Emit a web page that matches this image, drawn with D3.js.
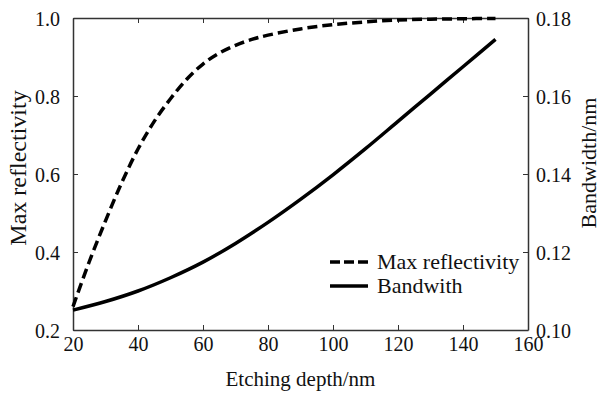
<!DOCTYPE html>
<html>
<head>
<meta charset="utf-8">
<script src="https://cdn.jsdelivr.net/npm/d3@7"></script>
<style>
body{margin:0;background:#fff;}
</style>
</head>
<body>
<script>
// etching depth (nm)
var depthR=[20,25,30,35,40,45,50,55,60,65,70,75,80,90,100,110,120,130,140,150];
var reflectivity=[0.26,0.375,0.48,0.578,0.664,0.735,0.793,0.843,0.882,0.910,0.930,0.945,0.956,0.972,0.983,0.99,0.995,0.997,0.998,0.999];
var depthB=[20,30,40,50,60,70,80,90,100,110,120,130,140,150];
var bandwidth=[0.1051,0.1073,0.1100,0.1134,0.1174,0.1222,0.1276,0.1335,0.1398,0.1465,0.1535,0.1605,0.1675,0.1745];
var xTicks=[20,40,60,80,100,120,140,160];
var yLeftTicks=[0.2,0.4,0.6,0.8,1.0];
var yRightTicks=[0.10,0.12,0.14,0.16,0.18];
var legendNames=['Max reflectivity','Bandwith'];

var width=601,height=394;
var plotLeft=73,plotRight=528,plotTop=18,plotBottom=330;
var px='px';
var serif='Liberation Serif';

var svg=d3.select('body').append('svg').attr('width',width).attr('height',height);

var x=d3.scaleLinear().domain([20,160]).range([plotLeft,plotRight]);
var yL=d3.scaleLinear().domain([0.2,1.0]).range([plotBottom,plotTop]);
var yR=d3.scaleLinear().domain([0.10,0.18]).range([plotBottom,plotTop]);

var fontSize=20;

// axes, ticks pointing inward
var gB=svg.append('g').attr('transform','translate(0,'+plotBottom+')')
    .call(d3.axisBottom(x).tickValues(xTicks).tickSizeInner(-5).tickSizeOuter(0).tickPadding(8).tickFormat(d3.format('d')));
var gT=svg.append('g').attr('transform','translate(0,'+plotTop+')')
    .call(d3.axisTop(x).tickValues(xTicks).tickSizeInner(-5).tickSizeOuter(0).tickFormat(''));
var gL=svg.append('g').attr('transform','translate('+plotLeft+',0)')
    .call(d3.axisLeft(yL).tickValues(yLeftTicks).tickSizeInner(-5).tickSizeOuter(0).tickPadding(13).tickFormat(d3.format('.1f')));
var gR=svg.append('g').attr('transform','translate('+plotRight+',0)')
    .call(d3.axisRight(yR).tickValues(yRightTicks).tickSizeInner(-5).tickSizeOuter(0).tickPadding(8).tickFormat(d3.format('.2f')));

[gB,gT,gL,gR].forEach(function(g){
    g.attr('font-family',serif);
    g.selectAll('path').attr('stroke','#333').attr('stroke-width',1.5);
    g.selectAll('line').attr('stroke','#333').attr('stroke-width',1);
    g.selectAll('text').attr('font-family',serif).attr('font-size',fontSize+px).attr('fill','#111');
});
gB.selectAll('text').attr('dy','0.65em');
gL.selectAll('text').attr('dy','0.35em');
gR.selectAll('text').attr('dy','0.35em');

// curves
var lineR=d3.line().x(function(d,i){return x(depthR[i]);}).y(function(d){return yL(d);}).curve(d3.curveCatmullRom);
var lineB=d3.line().x(function(d,i){return x(depthB[i]);}).y(function(d){return yR(d);}).curve(d3.curveCatmullRom);

svg.append('path').datum(reflectivity).attr('d',lineR)
    .attr('fill','none').attr('stroke','#000').attr('stroke-width',3.5).attr('stroke-dasharray','10,5');
svg.append('path').datum(bandwidth).attr('d',lineB)
    .attr('fill','none').attr('stroke','#000').attr('stroke-width',3.5);

// axis titles
svg.append('text').attr('x',(plotLeft+plotRight)/2).attr('y',386).attr('text-anchor','middle')
    .attr('font-family',serif).attr('font-size',21+px).attr('fill','#111').text('Etching depth/nm');
svg.append('text').attr('transform','translate(26,168) rotate(-90)').attr('text-anchor','middle')
    .attr('font-family',serif).attr('font-size',24+px).attr('fill','#111').text('Max reflectivity');
svg.append('text').attr('transform','translate(596,163) rotate(-90)').attr('text-anchor','middle')
    .attr('font-family',serif).attr('font-size',22+px).attr('fill','#111').text('Bandwidth/nm');

// legend
var legend=svg.append('g');
legendNames.forEach(function(name,i){
    var ly=262+i*24;
    legend.append('line').attr('x1',330).attr('x2',368).attr('y1',ly).attr('y2',ly)
        .attr('stroke','#000').attr('stroke-width',3.5)
        .attr('stroke-dasharray',i==0?'10,4':null);
    legend.append('text').attr('x',377).attr('y',ly+7)
        .attr('font-family',serif).attr('font-size',22+px).attr('fill','#111').text(name);
});
</script>
</body>
</html>
